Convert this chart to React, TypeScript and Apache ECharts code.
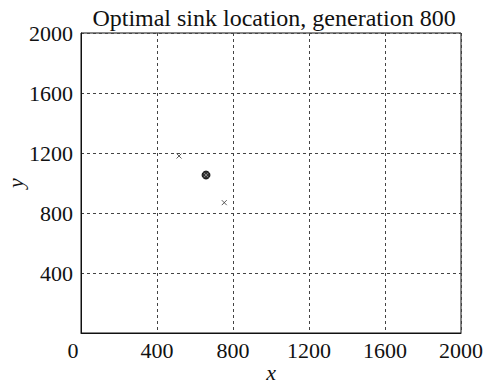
import React, { useEffect, useRef } from "react";
import * as echarts from "echarts";

const titleText = "Optimal sink location, generation 800";
const axisTicks = [0, 400, 800, 1200, 1600, 2000];
const sinkPoint: [number, number][] = [[658, 1053]];
const otherPoints: [number, number][] = [
  [516, 1180],
  [754, 869],
];

const FONT = "'Liberation Serif', 'Times New Roman', serif";

export default function App() {
  const ref = useRef<HTMLDivElement>(null);
  useEffect(() => {
    if (!ref.current) return;
    const chart = echarts.init(ref.current, undefined, { renderer: "svg" });
    const xPath = "path://M0,0L10,10M10,0L0,10";
    chart.setOption({
      animation: false,
      backgroundColor: "#fff",
      title: {
        text: titleText,
        left: 269,
        textAlign: "center",
        top: 1,
        textStyle: { fontFamily: FONT, fontSize: 24, fontWeight: "normal", color: "#111" },
      },
      grid: {
        left: 81,
        top: 33,
        width: 380,
        height: 300,
        show: true,
        borderColor: "#111",
        borderWidth: 1,
        backgroundColor: "transparent",
        containLabel: false,
        outerBoundsMode: "none",
      },
      xAxis: {
        type: "value",
        min: axisTicks[0],
        max: axisTicks[axisTicks.length - 1],
        interval: 400,
        name: "x",
        nameLocation: "middle",
        nameGap: 28,
        nameMoveOverlap: false,
        nameTextStyle: { fontFamily: FONT, fontSize: 22, fontStyle: "italic", color: "#111" },
        axisLine: { show: true, lineStyle: { color: "#111" } },
        axisTick: { show: false },
        splitLine: { show: true, lineStyle: { color: "#444", type: [3, 3], width: 1 } },
        axisLabel: {
          fontFamily: FONT,
          fontSize: 22,
          color: "#111",
          margin: 6,
          formatter: (v: number) => (v === 0 ? "{z|0}" : String(v)),
          rich: { z: { fontFamily: FONT, fontSize: 22, color: "#111", padding: [0, 16, 0, 0] } },
        },
      },
      yAxis: {
        type: "value",
        min: axisTicks[0],
        max: axisTicks[axisTicks.length - 1],
        interval: 400,
        name: "y",
        nameLocation: "middle",
        nameGap: 55,
        nameRotate: 90,
        nameMoveOverlap: false,
        nameTextStyle: { fontFamily: FONT, fontSize: 22, fontStyle: "italic", color: "#111" },
        axisLine: { show: true, lineStyle: { color: "#111" } },
        axisTick: { show: false },
        splitLine: { show: true, lineStyle: { color: "#444", type: [3, 3], width: 1 } },
        axisLabel: {
          fontFamily: FONT,
          fontSize: 22,
          color: "#111",
          margin: 8,
          formatter: (v: number) => (v === 0 ? "" : String(v)),
        },
      },
      series: [
        {
          type: "scatter",
          data: otherPoints,
          symbol: xPath,
          symbolSize: 5,
          itemStyle: { color: "none", borderColor: "#333", borderWidth: 1 },
          z: 3,
        },
        {
          type: "scatter",
          data: sinkPoint,
          symbol: "circle",
          symbolSize: 8,
          itemStyle: { color: "#000", borderColor: "#000", borderWidth: 1 },
          z: 4,
        },
        {
          type: "scatter",
          data: sinkPoint,
          symbol: xPath,
          symbolSize: 4,
          itemStyle: { color: "none", borderColor: "#999", borderWidth: 1 },
          z: 5,
        },
      ],
    });
    return () => chart.dispose();
  }, []);
  return (
    <div
      ref={ref}
      style={{ position: "fixed", left: 0, top: 0, width: 489, height: 383, background: "#fff" }}
    />
  );
}
